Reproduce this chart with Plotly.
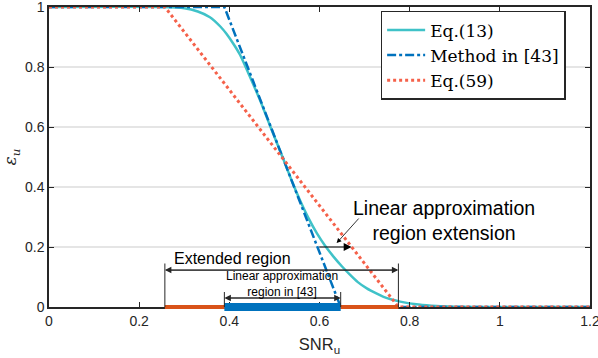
import plotly.graph_objects as go

# values
snr_eq13 = [0.0, 0.25, 0.3, 0.33, 0.357, 0.38, 0.394, 0.41, 0.424, 0.442, 0.468, 0.49,
            0.518, 0.54, 0.557, 0.575, 0.594, 0.612, 0.631, 0.65, 0.668, 0.685, 0.705,
            0.725, 0.742, 0.76, 0.779, 0.82, 0.86, 0.9, 1.0, 1.2]
eps_eq13 = [1.0, 1.0, 0.996, 0.985, 0.966, 0.935, 0.91, 0.875, 0.84, 0.78, 0.69, 0.605,
            0.5, 0.415, 0.355, 0.298, 0.246, 0.205, 0.168, 0.135, 0.107, 0.083, 0.062,
            0.046, 0.034, 0.025, 0.018, 0.008, 0.003, 0.001, 0.0, 0.0]

snr_m43 = [0.0, 0.389, 0.647, 1.2]
eps_m43 = [1.0, 1.0, 0.0, 0.0]

snr_eq59 = [0.0, 0.257, 0.775, 1.2]
eps_eq59 = [1.0, 1.0, 0.0, 0.0]

ext_region = [0.257, 0.775]
lin_region = [0.389, 0.647]
ext_arrow_y = 0.123
lin_arrow_y = 0.03
extension_y = 0.2
extension_x = [0.596, 0.671]

x_ticks = [0, 0.2, 0.4, 0.6, 0.8, 1, 1.2]
x_labels = ["0", "0.2", "0.4", "0.6", "0.8", "1", "1.2"]
y_ticks = [0, 0.2, 0.4, 0.6, 0.8, 1]
y_labels = ["0", "0.2", "0.4", "0.6", "0.8", "1"]

ink = "#262626"
serif = "DejaVu Serif"
sans = "Liberation Sans"

fig = go.Figure()
fig.add_trace(go.Scatter(x=snr_eq13, y=eps_eq13, mode="lines", name="Eq.(13)",
                         line=dict(color="#3FC2C8", width=2.5, shape="spline", smoothing=0.7)))
fig.add_trace(go.Scatter(x=snr_m43, y=eps_m43, mode="lines", name="Method in [43]",
                         line=dict(color="#0072BD", width=2.5, dash="dashdot")))
fig.add_trace(go.Scatter(x=snr_eq59, y=eps_eq59, mode="lines", name="Eq.(59)",
                         line=dict(color="#F5614A", width=3, dash="dot")))

shapes = [
    # region bars along the x axis
    dict(type="line", xref="x", yref="paper", x0=ext_region[0], x1=ext_region[1], y0=0, y1=0,
         line=dict(color="#D95319", width=4), layer="above"),
    dict(type="line", xref="x", yref="paper", x0=lin_region[0], x1=lin_region[1], y0=0, y1=0,
         line=dict(color="#0072BD", width=8), layer="above"),
]
for xv in ext_region:
    shapes.append(dict(type="line", xref="x", yref="y", x0=xv, x1=xv, y0=0, y1=0.145,
                       line=dict(color=ink, width=1)))
for xv in lin_region:
    shapes.append(dict(type="line", xref="x", yref="y", x0=xv, x1=xv, y0=0, y1=0.05,
                       line=dict(color=ink, width=1)))

annotations = []


def double_arrow(x0, x1, y):
    for a, b in ((x0, x1), (x1, x0)):
        annotations.append(dict(x=b, y=y, ax=a, ay=y, xref="x", yref="y", axref="x", ayref="y",
                                text="", showarrow=True, arrowhead=2, arrowsize=1.3,
                                arrowwidth=1, arrowcolor=ink, standoff=0))


double_arrow(ext_region[0], ext_region[1], ext_arrow_y)
double_arrow(lin_region[0], lin_region[1], lin_arrow_y)

# extension arrow
annotations.append(dict(x=extension_x[1], y=extension_y, ax=extension_x[0], ay=extension_y,
                        xref="x", yref="y", axref="x", ayref="y", text="", showarrow=True,
                        arrowhead=2, arrowsize=1.3, arrowwidth=1.2, arrowcolor="black", standoff=0))
annotations.append(dict(x=0.638, y=0.213, ax=0.69, ay=0.3, xref="x", yref="y", axref="x", ayref="y",
                        text="", showarrow=True, arrowhead=2, arrowsize=1.2, arrowwidth=0.8,
                        arrowcolor="black", standoff=0))

annotations.append(dict(x=0.273, y=0.163, xref="x", yref="y", xanchor="left", yanchor="middle",
                        text="Extended region", showarrow=False,
                        font=dict(family=sans, size=16, color="black")))
annotations.append(dict(x=0.517, y=0.077, xref="x", yref="y", xanchor="center", yanchor="middle",
                        text="Linear approximation<br>region in [43]", showarrow=False,
                        font=dict(family=sans, size=12, color="black")))
annotations.append(dict(x=0.876, y=0.29, xref="x", yref="y", xanchor="center", yanchor="middle",
                        text="Linear approximation<br>region extension", showarrow=False,
                        font=dict(family=sans, size=19.5, color="black")))

fig.update_layout(
    width=598, height=358,
    margin=dict(l=49, r=8, t=7, b=51, autoexpand=False),
    paper_bgcolor="white", plot_bgcolor="white",
    showlegend=True,
    legend=dict(x=0.613, y=0.987, xanchor="left", yanchor="top",
                bgcolor="white", bordercolor=ink, borderwidth=1.5,
                font=dict(family=serif, size=17, color="black"),
                tracegroupgap=0, itemwidth=38),
    shapes=shapes,
    annotations=annotations,
    xaxis=dict(range=[0, 1.2], tickvals=x_ticks, ticktext=x_labels, automargin=False,
               ticklabeloverflow="allow",
               showgrid=False, zeroline=False, showline=True, mirror="ticks",
               linecolor=ink, linewidth=1.5, ticks="inside", ticklen=5, tickcolor=ink,
               tickfont=dict(family=sans, size=14, color=ink),
               title=dict(text="SNR<sub>u</sub>", font=dict(family=sans, size=16.5, color=ink),
                          standoff=11)),
    yaxis=dict(range=[0, 1], tickvals=y_ticks, ticktext=y_labels, automargin=False,
               ticklabeloverflow="allow",
               showgrid=True, gridcolor="#E5E5E5", gridwidth=1.5, zeroline=False,
               showline=True, mirror="ticks", linecolor=ink, linewidth=1.5,
               ticks="inside", ticklen=5, tickcolor=ink,
               tickfont=dict(family=sans, size=14, color=ink),
               title=dict(text="<i>ε<sub>u</sub></i>", font=dict(family=serif, size=17, color=ink),
                          standoff=8)),
)

fig.write_html("out.html", config={"displayModeBar": False},
               post_script="document.body.style.margin = '0';")
